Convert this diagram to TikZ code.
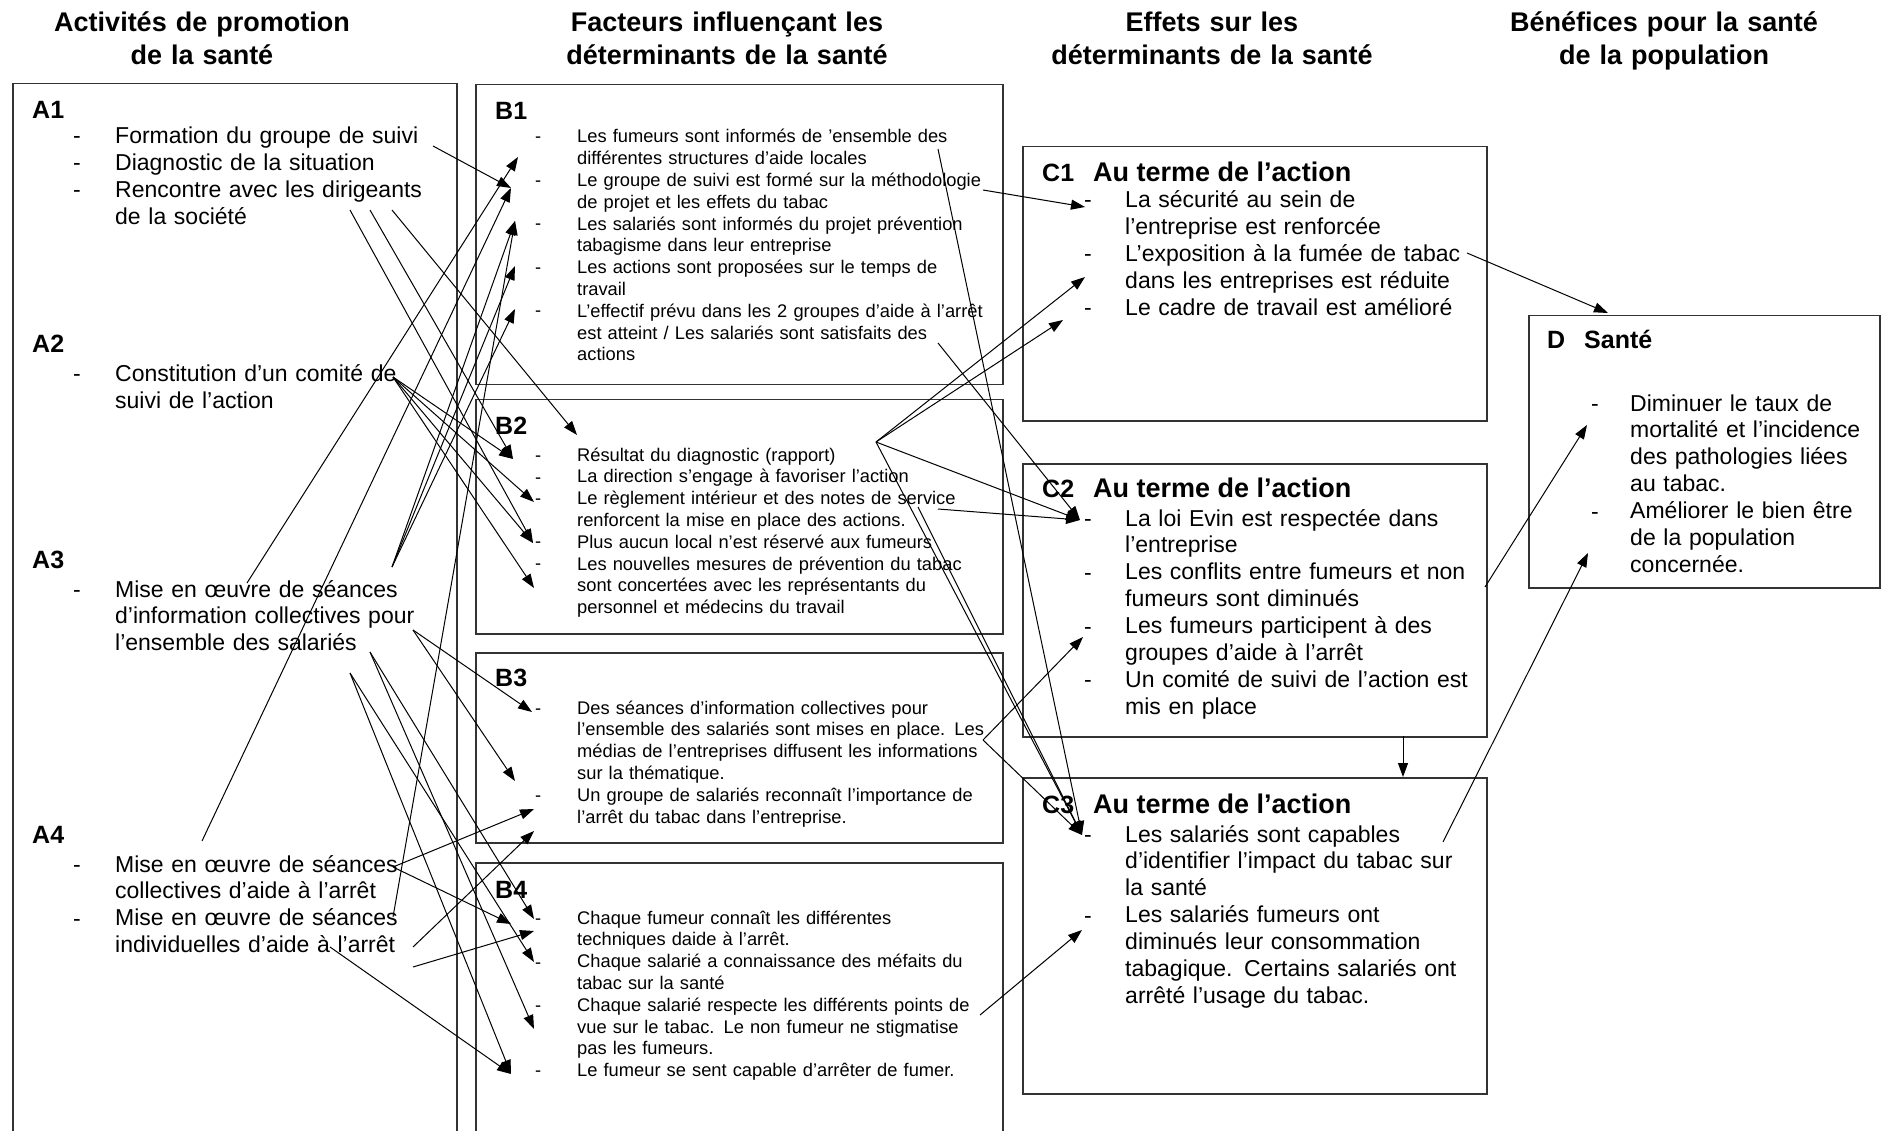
\documentclass[tikz,border=0pt]{standalone}
\usepackage{fontspec}
\setmainfont{Liberation Sans}
\usetikzlibrary{arrows.meta}
\tikzset{
  coltitle/.style = {
    font=\fontsize{27}{33}\selectfont\bfseries,
    text width=440pt, align=center, anchor=base, inner sep=0pt
  },
  panel/.style = {
    draw=black!80, line width=1.5pt, anchor=north west, inner sep=0pt
  },
  boxtag/.style = {
    font=\fontsize{25}{30}\selectfont\bfseries, anchor=base west, inner sep=0pt
  },
  boxhead/.style = {
    font=\fontsize{27}{32}\selectfont\bfseries, anchor=base west, inner sep=0pt
  },
  bigtext/.style = {
    font=\fontsize{23}{26.9}\selectfont,
    text width=380pt, align=left, anchor=base west, inner sep=0pt
  },
  smalltext/.style = {
    font=\fontsize{18.3}{21.8}\selectfont,
    text width=440pt, align=left, anchor=base west, inner sep=0pt
  },
  bigdash/.style = {font=\fontsize{23}{26.9}\selectfont, anchor=base west, inner sep=0pt},
  smalldash/.style = {font=\fontsize{18.3}{21.8}\selectfont, anchor=base west, inner sep=0pt},
  link/.style = {-{Triangle[length=14pt,width=10pt]}, line width=1pt}
}

\begin{document}
\begin{tikzpicture}[x=1pt,y=-1pt]
\useasboundingbox (0,0) rectangle (1882,1131);

% column titles
\node[coltitle] (T1) at (202,32) {Activités de promotion\\de la santé};
\node[coltitle] (T2) at (727,32) {Facteurs influençant les\\déterminants de la santé};
\node[coltitle] (T3) at (1212,32) {Effets sur les\\déterminants de la santé};
\node[coltitle] (T4) at (1664,32) {Bénéfices pour la santé\\de la population};

% boxes
\node[panel, minimum width=444pt, minimum height=1062pt] (A) at (12,83) {};
\node[panel, minimum width=527pt, minimum height=300pt] (B1box) at (475,84) {};
\node[panel, minimum width=527pt, minimum height=234pt] (B2box) at (475,399) {};
\node[panel, minimum width=527pt, minimum height=190pt] (B3box) at (475,652) {};
\node[panel, minimum width=527pt, minimum height=283pt] (B4box) at (475,862) {};
\node[panel, minimum width=464pt, minimum height=274pt] (C1box) at (1022,146) {};
\node[panel, minimum width=464pt, minimum height=273pt] (C2box) at (1022,463) {};
\node[panel, minimum width=464pt, minimum height=316pt] (C3box) at (1022,777) {};
\node[panel, minimum width=351pt, minimum height=272pt] (Dbox) at (1528,315) {};

% activities
\node[boxtag] (A1) at (32,119) {A1};
\node[bigtext] (A1t) at (115,144) {Formation du groupe de suivi\\Diagnostic de la situation\\Rencontre avec les dirigeants\\de la société};
\node[boxtag] (A2) at (32,353) {A2};
\node[bigtext] (A2t) at (115,382) {Constitution d'un comité de\\suivi de l'action};
\node[boxtag] (A3) at (32,568) {A3};
\node[bigtext] (A3t) at (115,597) {Mise en œuvre de séances\\d'information collectives pour\\l'ensemble des salariés};
\node[boxtag] (A4) at (32,843) {A4};
\node[bigtext] (A4t) at (115,872) {Mise en œuvre de séances\\collectives d'aide à l'arrêt\\Mise en œuvre de séances\\individuelles d'aide à l'arrêt};
\foreach \y in {144,171,198,382,597,872,926}
  \node[bigdash] (adash\y) at (73,\y) {-};

% factors
\node[boxtag] (B1) at (495,120) {B1};
\node[smalltext] (B1t) at (577,143) {Les fumeurs sont informés de 'ensemble des\\différentes structures d'aide locales\\Le groupe de suivi est formé sur la méthodologie\\de projet et les effets du tabac\\Les salariés sont informés du projet prévention\\tabagisme dans leur entreprise\\Les actions sont proposées sur le temps de\\travail\\L'effectif prévu dans les 2 groupes d'aide à l'arrêt\\est atteint / Les salariés sont satisfaits des\\actions};
\node[boxtag] (B2) at (495,435) {B2};
\node[smalltext] (B2t) at (577,461) {Résultat du diagnostic (rapport)\\La direction s'engage à favoriser l'action\\Le règlement intérieur et des notes de service\\renforcent la mise en place des actions.\\Plus aucun local n'est réservé aux fumeurs\\Les nouvelles mesures de prévention du tabac\\sont concertées avec les représentants du\\personnel et médecins du travail};
\node[boxtag] (B3) at (495,686) {B3};
\node[smalltext] (B3t) at (577,714) {Des séances d'information collectives pour\\l'ensemble des salariés sont mises en place. Les\\médias de l'entreprises diffusent les informations\\sur la thématique.\\Un groupe de salariés reconnaît l'importance de\\l'arrêt du tabac dans l'entreprise.};
\node[boxtag] (B4) at (495,898) {B4};
\node[smalltext] (B4t) at (577,924) {Chaque fumeur connaît les différentes\\techniques daide à l'arrêt.\\Chaque salarié a connaissance des méfaits du\\tabac sur la santé\\Chaque salarié respecte les différents points de\\vue sur le tabac. Le non fumeur ne stigmatise\\pas les fumeurs.\\Le fumeur se sent capable d'arrêter de fumer.};
\foreach \y in {143,187,230,274,317,461,483,504,547,569,714,801,924,968,1011,1076}
  \node[smalldash] (bdash\y) at (535,\y) {-};

% effects
\node[boxtag] (C1) at (1042,182) {C1};
\node[boxhead] (C1h) at (1093,182) {Au terme de l'action};
\node[bigtext] (C1t) at (1125,208) {La sécurité au sein de\\l'entreprise est renforcée\\L'exposition à la fumée de tabac\\dans les entreprises est réduite\\Le cadre de travail est amélioré};
\node[boxtag] (C2) at (1042,497) {C2};
\node[boxhead] (C2h) at (1093,497) {Au terme de l'action};
\node[bigtext] (C2t) at (1125,526) {La loi Evin est respectée dans\\l'entreprise\\Les conflits entre fumeurs et non\\fumeurs sont diminués\\Les fumeurs participent à des\\groupes d'aide à l'arrêt\\Un comité de suivi de l'action est\\mis en place};
\node[boxtag] (C3) at (1042,813) {C3};
\node[boxhead] (C3h) at (1093,813) {Au terme de l'action};
\node[bigtext] (C3t) at (1125,842) {Les salariés sont capables\\d'identifier l'impact du tabac sur\\la santé\\Les salariés fumeurs ont\\diminués leur consommation\\tabagique. Certains salariés ont\\arrêté l'usage du tabac.};
\foreach \y in {208,262,316,526,580,634,687,842,923}
  \node[bigdash] (cdash\y) at (1084,\y) {-};

% benefits
\node[boxtag] (D) at (1547,349) {D};
\node[boxhead, font=\fontsize{25}{30}\selectfont\bfseries] (Dh) at (1584,349) {Santé};
\node[bigtext] (Dt) at (1630,411) {Diminuer le taux de\\mortalité et l'incidence\\des pathologies liées\\au tabac.\\Améliorer le bien être\\de la population\\concernée.};
\foreach \y in {411,519}
  \node[bigdash] (ddash\y) at (1591,\y) {-};

% starts in A
\coordinate (a1s) at (433,146);
\coordinate (a1d1) at (350,210);
\coordinate (a1d2) at (370,210);
\coordinate (a1d3) at (392,210);
\coordinate (a2c) at (393,377);
\coordinate (a3u) at (392,567);
\coordinate (a3s) at (247,583);
\coordinate (a3p) at (413,630);
\coordinate (a3b1) at (350,673);
\coordinate (a3b2) at (370,652);
\coordinate (a4u) at (202,841);
\coordinate (a4a) at (393,867);
\coordinate (a4b) at (393,917);
\coordinate (a4c) at (413,947);
\coordinate (a4d) at (413,967);
\coordinate (a4e) at (330,947);

% targets in B
\coordinate (b1p1) at (518,157);
\coordinate (b1p2) at (511,188);
\coordinate (b1p3) at (515,221);
\coordinate (b1p4) at (515,266);
\coordinate (b1p5) at (515,309);
\coordinate (b2p1) at (577,435);
\coordinate (b2p2) at (513,459);
\coordinate (b2p3) at (534,502);
\coordinate (b2p4) at (533,543);
\coordinate (b2p5) at (534,588);
\coordinate (b3p1) at (532,712);
\coordinate (b3p2) at (515,781);
\coordinate (b3p3) at (534,809);
\coordinate (b3p4) at (534,831);
\coordinate (b4p1) at (534,919);
\coordinate (b4p2) at (511,924);
\coordinate (b4p3) at (534,931);
\coordinate (b4p4) at (534,962);
\coordinate (b4p5) at (534,1029);
\coordinate (b4p6) at (511,1074);

% starts in B
\coordinate (b1e1) at (938,149);
\coordinate (b1m) at (983,190);
\coordinate (b1e5) at (938,343);
\coordinate (f2) at (876,442);
\coordinate (b2s) at (938,509);
\coordinate (b2s2) at (918,507);
\coordinate (b3l) at (983,740);
\coordinate (b4d) at (980,1015);

% targets in C and D
\coordinate (c1p1) at (1085,207);
\coordinate (c1p2) at (1085,277);
\coordinate (c1p3) at (1063,320);
\coordinate (c2p1) at (1080,520);
\coordinate (c2p2) at (1083,637);
\coordinate (c3p1) at (1082,835);
\coordinate (c3p2) at (1082,930);
\coordinate (c1e) at (1467,253);
\coordinate (c2e) at (1485,587);
\coordinate (c3e) at (1443,842);
\coordinate (c2b) at (1403,736);
\coordinate (c3top) at (1403,777);
\coordinate (d1) at (1608,313);
\coordinate (d2) at (1587,425);
\coordinate (d3) at (1588,553);

\foreach \s/\t in {a1s/b1p2, a3s/b1p1, a4u/b1p2, a4b/b1p3, a3u/b1p3, a3u/b1p4, a3u/b1p5,
    a1d3/b2p1, a1d2/b2p2, a1d1/b2p4, a2c/b2p2, a2c/b2p3, a2c/b2p4, a2c/b2p5,
    a3p/b3p1, a3p/b3p2, a4a/b3p3, a4a/b4p2, a4c/b3p4, a4d/b4p3, a4e/b4p6,
    a3b2/b4p1, a3b2/b4p5, a3b1/b4p4, a3b1/b4p6}
  \draw[link] (\s) -- (\t);

\foreach \s/\t in {b1m/c1p1, f2/c1p2, f2/c1p3, f2/c2p1, f2/c3p1, b1e5/c2p1, b2s/c2p1,
    b2s2/c3p1, b1e1/c3p1, b3l/c2p2, b3l/c3p1, b4d/c3p2,
    c1e/d1, c2e/d2, c3e/d3, c2b/c3top}
  \draw[link] (\s) -- (\t);

\end{tikzpicture}
\end{document}
